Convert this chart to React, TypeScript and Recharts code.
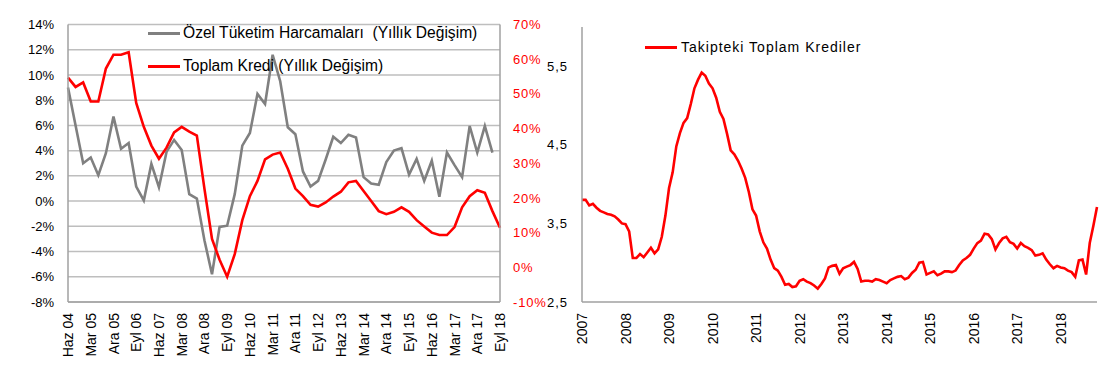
import React from 'react';
import { LineChart, Line, XAxis, YAxis, CartesianGrid, Legend } from 'recharts';

// ---------- Left panel data (quarterly, Haz 04 .. Eyl 18) ----------
const quarterNames = ['Mar', 'Haz', 'Eyl', 'Ara'];
const quarterCats: string[] = [];
for (let y = 2004; y <= 2018; y++) {
  for (let q = 0; q < 4; q++) {
    if (y === 2004 && q < 1) continue;
    if (y === 2018 && q > 2) continue;
    quarterCats.push(`${quarterNames[q]} ${String(y).slice(2)}`);
  }
}

// Özel Tüketim Harcamaları (Yıllık Değişim), % – left axis
const consumption = [
  9.0, 6.0, 3.0, 3.45, 2.05, 3.8, 6.7, 4.15, 4.6, 1.15,
  0.05, 2.95, 1.1, 3.9, 4.85, 4.05, 0.55, 0.2, -3.1, -5.8,
  -2.05, -1.95, 0.55, 4.4, 5.4, 8.5, 7.7, 11.6, 9.5, 5.85,
  5.3, 2.35, 1.15, 1.6, 3.3, 5.1, 4.6, 5.25, 5.05, 1.9,
  1.4, 1.3, 3.1, 4.0, 4.2, 2.1, 3.35, 1.6, 3.2, 0.35,
  3.85, 2.85, 1.9, 5.95, 3.85, 5.95, 3.85,
];

// Toplam Kredi (Yıllık Değişim), % – right axis
const credit = [
  54.7, 52.0, 53.3, 47.8, 47.8, 57.3, 61.3, 61.3, 62.0, 47.4,
  40.5, 35.1, 31.3, 34.5, 38.9, 40.5, 39.1, 38.0, 22.7, 8.2,
  2.2, -2.7, 3.8, 13.6, 20.5, 24.9, 31.1, 32.5, 33.1, 28.4,
  22.7, 20.5, 18.0, 17.5, 18.7, 20.4, 21.8, 24.5, 24.9, 22.0,
  19.1, 16.2, 15.3, 16.0, 17.3, 16.0, 13.6, 11.8, 10.0, 9.3,
  9.3, 11.6, 17.3, 20.5, 22.2, 21.5, 16.2, 11.4,
];

const leftTicks = [-8, -6, -4, -2, 0, 2, 4, 6, 8, 10, 12, 14];
const rightTicks = [-10, 0, 10, 20, 30, 40, 50, 60, 70];

// ---------- Right panel data (monthly, Oca 2007 .. Kas 2018) ----------
const yearLabels = ['2007', '2008', '2009', '2010', '2011', '2012', '2013', '2014', '2015', '2016', '2017', '2018'];

// Takipteki Toplam Krediler (%)
const npl = [
  3.80, 3.80, 3.73, 3.75, 3.70, 3.66, 3.64, 3.62, 3.61, 3.59, 3.55, 3.50,
  3.49, 3.40, 3.06, 3.06, 3.11, 3.07, 3.13, 3.19, 3.12, 3.17, 3.33, 3.60,
  3.95, 4.15, 4.48, 4.65, 4.78, 4.84, 5.02, 5.22, 5.33, 5.42, 5.38, 5.28,
  5.22, 5.10, 4.92, 4.83, 4.64, 4.43, 4.38, 4.30, 4.20, 4.08, 3.90, 3.68,
  3.60, 3.40, 3.26, 3.18, 3.04, 2.93, 2.90, 2.82, 2.72, 2.73, 2.69, 2.70,
  2.77, 2.79, 2.76, 2.74, 2.71, 2.67, 2.73, 2.80, 2.94, 2.96, 2.97, 2.86,
  2.93, 2.95, 2.97, 3.01, 2.92, 2.76, 2.77, 2.77, 2.76, 2.79, 2.78, 2.76,
  2.74, 2.78, 2.80, 2.82, 2.83, 2.79, 2.81, 2.87, 2.91, 3.00, 3.01, 2.85,
  2.87, 2.89, 2.84, 2.86, 2.89, 2.89, 2.88, 2.90, 2.97, 3.03, 3.06, 3.10,
  3.18, 3.25, 3.28, 3.37, 3.36, 3.30, 3.17, 3.25, 3.31, 3.33, 3.26, 3.24,
  3.18, 3.25, 3.21, 3.19, 3.16, 3.09, 3.10, 3.12, 3.04, 2.98, 2.93, 2.96,
  2.94, 2.93, 2.90, 2.88, 2.82, 3.03, 3.04, 2.85, 3.25, 3.47, 3.71,
];
const nplTicks = [2.5, 3.5, 4.5, 5.5];

const leftData = quarterCats.map((q, i) => ({
  i,
  q,
  tuketim: i < consumption.length ? consumption[i] : null,
  kredi: credit[i],
}));
const leftXTicks = quarterCats.map((_, i) => i).filter((i) => i % 3 === 0);

const rightData = npl.map((v, m) => ({ m, npl: v }));
const rightXTicks = yearLabels.map((_, k) => k * 12);

const FONT = '"Liberation Sans", Arial, sans-serif';
const GRID = '#BEBEBE';
const BORDER = '#A0A0A0';
const RED = '#FF0000';
const GRAY = '#808080';

const RotTick = (props: any) => {
  const { x, y, payload, labels } = props;
  return (
    <g transform={`translate(${x},${y}) rotate(-90)`}>
      <text x={0} y={0} dy="0.36em" textAnchor="end" fontSize={14} fill="#000" fontFamily={FONT}>
        {labels(payload.value)}
      </text>
    </g>
  );
};

const LeftLegend = () => (
  <div style={{ fontFamily: FONT, fontSize: 15.6, color: '#000' }}>
    <div style={{ display: 'flex', alignItems: 'center', height: 20, marginBottom: 13 }}>
      <span style={{ display: 'inline-block', width: 32, height: 3, background: GRAY, marginRight: 3 }} />
      <span style={{ whiteSpace: 'pre' }}>Özel Tüketim Harcamaları  (Yıllık Değişim)</span>
    </div>
    <div style={{ display: 'flex', alignItems: 'center', height: 20 }}>
      <span style={{ display: 'inline-block', width: 32, height: 3, background: RED, marginRight: 3 }} />
      <span style={{ whiteSpace: 'pre' }}>Toplam Kredi (Yıllık Değişim)</span>
    </div>
  </div>
);

const RightLegend = () => (
  <div style={{ fontFamily: FONT, fontSize: 14, color: '#000', letterSpacing: 1 }}>
    <div style={{ display: 'flex', alignItems: 'center', height: 20 }}>
      <span style={{ display: 'inline-block', width: 32, height: 3, background: RED, marginRight: 4 }} />
      <span style={{ whiteSpace: 'pre' }}>Takipteki Toplam Krediler</span>
    </div>
  </div>
);

export default function App() {
  return (
    <div
      style={{
        position: 'absolute',
        left: 0,
        top: 0,
        width: 1108,
        height: 372,
        background: '#fff',
        overflow: 'hidden',
        fontFamily: FONT,
      }}
    >
      <div style={{ position: 'absolute', left: 0, top: 0 }}>
        <LineChart width={560} height={372} data={leftData} margin={{ top: 24.5, right: 0, left: 0, bottom: 0 }}>
          <CartesianGrid yAxisId="left" vertical={false} stroke={GRID} strokeWidth={1.5} />
          <XAxis
            dataKey="i"
            type="number"
            domain={[0, quarterCats.length - 1]}
            ticks={leftXTicks}
            interval={0}
            height={70}
            tickLine={false}
            tickSize={0}
            tickMargin={11}
            axisLine={{ stroke: BORDER, strokeWidth: 1.5 }}
            tick={<RotTick labels={(v: number) => quarterCats[v]} />}
          />
          <YAxis
            yAxisId="left"
            domain={[-8, 14]}
            ticks={leftTicks}
            interval={0}
            width={68}
            tickLine={false}
            tickSize={0}
            tickMargin={14}
            axisLine={{ stroke: BORDER, strokeWidth: 1.5 }}
            tick={{ fontSize: 13, fill: '#000', fontFamily: FONT }}
            tickFormatter={(v: number) => `${v}%`}
          />
          <YAxis
            yAxisId="right"
            orientation="right"
            domain={[-10, 70]}
            ticks={rightTicks}
            interval={0}
            width={60}
            tickLine={false}
            tickSize={0}
            tickMargin={13}
            axisLine={{ stroke: BORDER, strokeWidth: 1.5 }}
            tick={{ fontSize: 13, fill: RED, fontFamily: FONT, letterSpacing: 0.8 }}
            tickFormatter={(v: number) => `${v}%`}
          />
          <Legend
            layout="horizontal"
            verticalAlign="middle"
            align="center"
            content={<LeftLegend />}
            wrapperStyle={{ position: 'absolute', left: 148, top: 23, width: 'auto', height: 'auto' }}
          />
          <Line
            yAxisId="left"
            dataKey="tuketim"
            name="Özel Tüketim Harcamaları  (Yıllık Değişim)"
            stroke={GRAY}
            strokeWidth={2.6}
            dot={false}
            isAnimationActive={false}
            connectNulls={false}
          />
          <Line
            yAxisId="right"
            dataKey="kredi"
            name="Toplam Kredi (Yıllık Değişim)"
            stroke={RED}
            strokeWidth={2.6}
            dot={false}
            isAnimationActive={false}
          />
        </LineChart>
      </div>

      <div style={{ position: 'absolute', left: 520, top: 0 }}>
        <LineChart width={580} height={372} data={rightData} margin={{ top: 27, right: 3, left: 0, bottom: 0 }}>
          <XAxis
            dataKey="m"
            type="number"
            domain={[0, npl.length - 1]}
            ticks={rightXTicks}
            interval={0}
            height={70}
            tickLine={false}
            tickSize={0}
            tickMargin={11}
            axisLine={{ stroke: BORDER, strokeWidth: 1.5 }}
            tick={<RotTick labels={(v: number) => yearLabels[v / 12]} />}
          />
          <XAxis
            xAxisId="top"
            dataKey="m"
            type="number"
            orientation="top"
            domain={[0, npl.length - 1]}
            height={0}
            tick={false}
            tickLine={false}
            axisLine={{ stroke: BORDER, strokeWidth: 1.5 }}
          />
          <YAxis
            domain={[2.5, 6]}
            ticks={nplTicks}
            interval={0}
            width={62}
            tickLine={false}
            tickSize={0}
            tickMargin={14}
            axisLine={{ stroke: BORDER, strokeWidth: 1.5 }}
            tick={{ fontSize: 13, fill: '#000', fontFamily: FONT, letterSpacing: 1 }}
            tickFormatter={(v: number) => v.toFixed(1).replace('.', ',')}
          />
          <YAxis
            yAxisId="r"
            orientation="right"
            domain={[2.5, 6]}
            width={0}
            tick={false}
            tickLine={false}
            axisLine={{ stroke: BORDER, strokeWidth: 1.5 }}
          />
          <Legend
            layout="horizontal"
            verticalAlign="middle"
            align="center"
            content={<RightLegend />}
            wrapperStyle={{ position: 'absolute', left: 125, top: 37, width: 'auto', height: 'auto' }}
          />
          <Line
            dataKey="npl"
            name="Takipteki Toplam Krediler"
            stroke={RED}
            strokeWidth={2.6}
            dot={false}
            isAnimationActive={false}
          />
        </LineChart>
      </div>
    </div>
  );
}
